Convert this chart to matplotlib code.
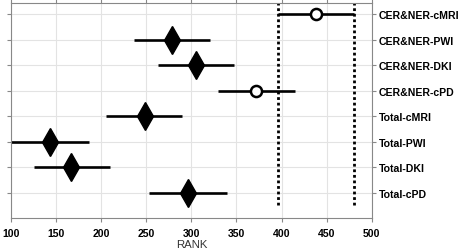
import matplotlib
matplotlib.use("Agg")
import matplotlib.pyplot as plt
import numpy as np

plt.rcParams['font.family'] = ['Liberation Sans', 'DejaVu Sans']

# bottom to top
labels = ["Total-cPD", "Total-DKI", "Total-PWI", "Total-cMRI",
          "CER&NER-cPD", "CER&NER-DKI", "CER&NER-PWI", "CER&NER-cMRI"]
centre = [296, 167, 143, 248, 372, 305, 278, 438]
low = [253, 125, 100, 205, 330, 263, 236, 396]
high = [339, 210, 186, 290, 415, 347, 321, 480]
marker = ["d", "d", "d", "d", "o", "d", "d", "o"]
ref_lines = [396, 480]

fig = plt.figure(figsize=(4.59, 2.51), dpi=100)
ax = fig.add_axes([0.024, 0.127, 0.786, 0.857])

pos = np.arange(1, len(labels) + 1)
for p, c, lo, hi, m in zip(pos, centre, low, high, marker):
    ax.plot([lo, hi], [p, p], color="black", lw=1.9, solid_capstyle="butt")
    if m == "o":
        ax.plot(c, p, marker="o", ms=8, mfc="white", mec="black", mew=1.8)
    else:
        ax.plot(c, p, marker="d", ms=14, mfc="black", mec="black")

for r in ref_lines:
    ax.plot([r, r], [0.5, 8.45], color="black", lw=2, ls=(0, (1, 1)))

ax.set_xlim(100, 500)
ax.set_ylim(0, 8.45)
ax.set_xticks(np.arange(100, 501, 50))
ax.set_yticks(pos)
ax.set_yticklabels(labels, fontweight="bold", fontsize=7.6)
ax.yaxis.tick_right()
ax.tick_params(axis="y", which="both", left=True, right=True, length=3, color="#888888", pad=2)
ax.tick_params(axis="x", top=True, bottom=True, length=3, color="#888888", labelsize=7.6, pad=4)
for t in ax.get_xticklabels():
    t.set_fontweight("bold")
ax.set_xlabel("RANK", fontsize=8.2, labelpad=1, color="#333333")
ax.grid(True, color="#e3e3e3", lw=0.8)
ax.set_axisbelow(True)
for s in ax.spines.values():
    s.set_color("#888888")
    s.set_linewidth(0.8)

fig.savefig("out.png", dpi=100)
